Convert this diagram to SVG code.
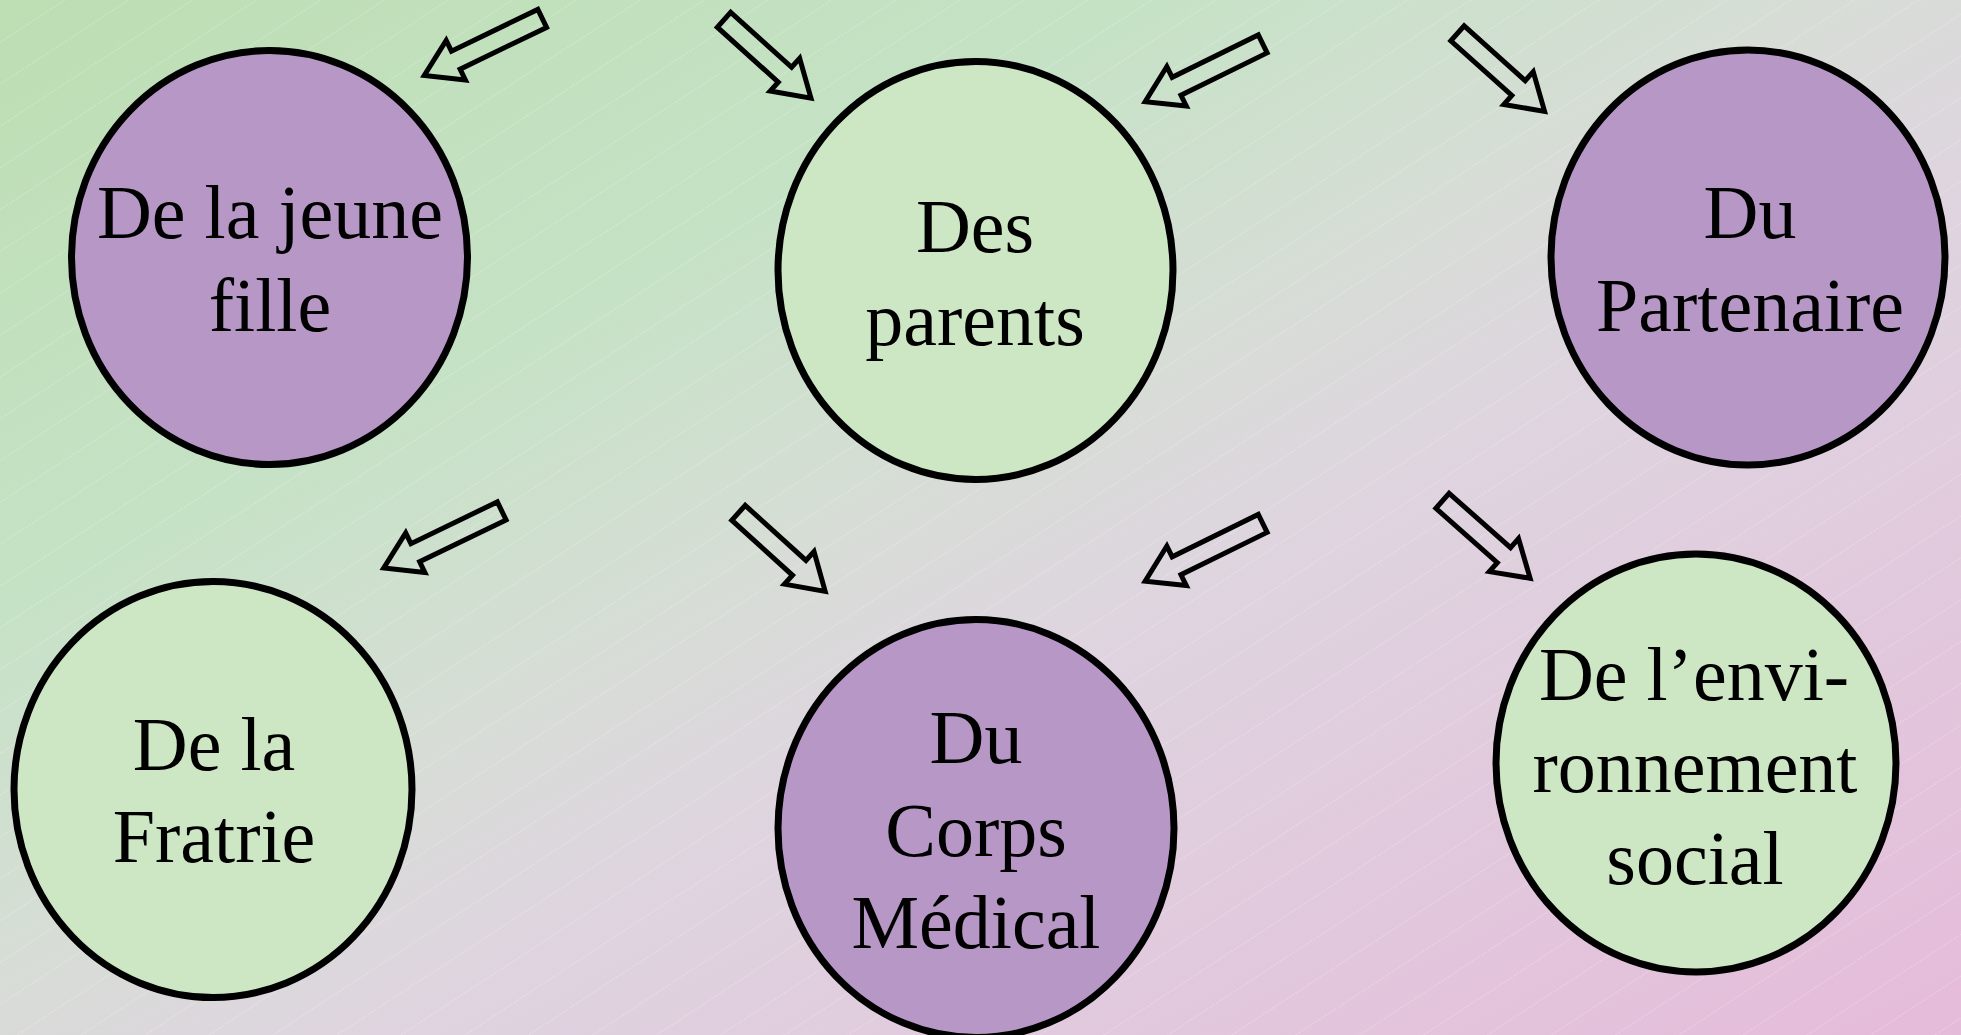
<svg xmlns="http://www.w3.org/2000/svg" xmlns:xlink="http://www.w3.org/1999/xlink" width="1961" height="1035" viewBox="0 0 1961 1035">
  <style>
    .node-purple { fill: #B797C6; stroke: #000; stroke-width: 7; }
    .node-green { fill: #CDE6C4; stroke: #000; stroke-width: 7; }
    .label { font-family: "Liberation Serif", "Times New Roman", serif; font-size: 76px; fill: #000; text-anchor: middle; }
    .arrow { fill: none; stroke: #000; stroke-width: 5; stroke-linejoin: miter; stroke-miterlimit: 10; }
  </style>
  <defs>
    <linearGradient id="bg" x1="0" y1="0" x2="1" y2="1">
      <stop offset="0" stop-color="#BDDEB3"/>
      <stop offset="0.3" stop-color="#C6E2C6"/>
      <stop offset="0.47" stop-color="#D7DDD6"/>
      <stop offset="0.58" stop-color="#DED5DF"/>
      <stop offset="1" stop-color="#E5BBDA"/>
    </linearGradient>
    <pattern id="lines" patternUnits="userSpaceOnUse" width="200" height="35" patternTransform="rotate(-33.2)">
      <line x1="0" y1="0.5" x2="200" y2="0.5" stroke="#FFFFFF" stroke-opacity="0.22" stroke-width="1" stroke-dasharray="3 1"/>
    </pattern>
    <path id="arrowLong" d="M0,-10 H96 V-22 L131,0 L96,22 V10 H0 Z"/>
    <path id="arrowShort" d="M0,-10 H82 V-22 L117,0 L82,22 V10 H0 Z"/>
  </defs>

  <rect x="0" y="0" width="1961" height="1035" fill="url(#bg)"/>
  <rect x="0" y="0" width="1961" height="1035" fill="url(#lines)"/>

  <g id="connectors">
    <use xlink:href="#arrowLong" href="#arrowLong" class="arrow" transform="translate(542.2,18.4) rotate(154.2)"/>
    <use xlink:href="#arrowShort" href="#arrowShort" class="arrow" transform="translate(724,19.8) rotate(42)"/>
    <use xlink:href="#arrowLong" href="#arrowLong" class="arrow" transform="translate(1262.7,43.9) rotate(153.8)"/>
    <use xlink:href="#arrowShort" href="#arrowShort" class="arrow" transform="translate(1457.5,33.3) rotate(41.9)"/>
    <use xlink:href="#arrowLong" href="#arrowLong" class="arrow" transform="translate(501.7,510.9) rotate(154.2)"/>
    <use xlink:href="#arrowShort" href="#arrowShort" class="arrow" transform="translate(738.5,512.8) rotate(42.2)"/>
    <use xlink:href="#arrowLong" href="#arrowLong" class="arrow" transform="translate(1262.7,523.4) rotate(153.8)"/>
    <use xlink:href="#arrowShort" href="#arrowShort" class="arrow" transform="translate(1442.5,500.8) rotate(41.5)"/>
  </g>

  <g id="node-jeune-fille">
    <ellipse class="node-purple" cx="269.5" cy="257.5" rx="198" ry="207"/>
    <text class="label" x="270" y="238">De la jeune</text>
    <text class="label" x="270" y="331">fille</text>
  </g>

  <g id="node-parents">
    <ellipse class="node-green" cx="975.5" cy="270.5" rx="197.5" ry="209"/>
    <text class="label" x="975" y="252">Des</text>
    <text class="label" x="975" y="345">parents</text>
  </g>

  <g id="node-partenaire">
    <ellipse class="node-purple" cx="1748" cy="257.5" rx="197" ry="207.5"/>
    <text class="label" x="1750" y="238">Du</text>
    <text class="label" x="1750" y="331">Partenaire</text>
  </g>

  <g id="node-fratrie">
    <ellipse class="node-green" cx="213" cy="789.5" rx="199" ry="208"/>
    <text class="label" x="214" y="770">De la</text>
    <text class="label" x="214" y="862">Fratrie</text>
  </g>

  <g id="node-corps-medical">
    <ellipse class="node-purple" cx="976" cy="828.5" rx="198" ry="209"/>
    <text class="label" x="976" y="763">Du</text>
    <text class="label" x="976" y="856">Corps</text>
    <text class="label" x="976" y="948">Médical</text>
  </g>

  <g id="node-environnement">
    <ellipse class="node-green" cx="1696" cy="763" rx="200" ry="209"/>
    <text class="label" x="1694" y="700">De l’envi-</text>
    <text class="label" x="1695" y="792">ronnement</text>
    <text class="label" x="1695" y="884">social</text>
  </g>
</svg>
